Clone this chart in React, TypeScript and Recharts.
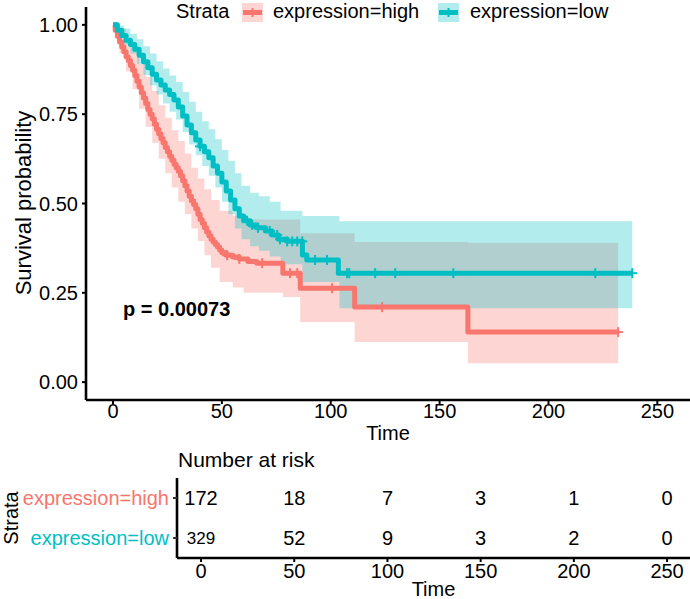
import {
  ComposedChart,
  ScatterChart,
  Line,
  Area,
  Scatter,
  XAxis,
  YAxis,
  Label,
} from "recharts";

const FONT = "'Liberation Sans', Arial, Helvetica, sans-serif";
const RED = "#F8766D";
const TEAL = "#00BFC4";

const strata = ["expression=high", "expression=low"];
const timeTicks = [0, 50, 100, 150, 200, 250];
const survTicks = [0, 0.25, 0.5, 0.75, 1];

// expression=high: Kaplan-Meier steps
const highTime = [
  0, 1, 2, 3, 4, 5, 6, 7, 8, 9, 10, 11, 12, 13, 14, 15, 16, 17, 18, 19, 20, 21,
  22, 23, 24, 25, 26, 27, 28, 29, 30, 31, 32, 33, 34, 35, 36, 37, 38, 39, 40, 41,
  42, 43, 44, 45, 46, 47, 48, 49, 50, 52, 55, 58, 62, 66, 78, 86, 111, 163, 232,
];
const highSurv = [
  1, 0.985, 0.968, 0.952, 0.938, 0.925, 0.911, 0.9, 0.886, 0.873, 0.858, 0.842,
  0.826, 0.81, 0.795, 0.78, 0.763, 0.75, 0.737, 0.722, 0.708, 0.695, 0.682, 0.67,
  0.657, 0.645, 0.632, 0.621, 0.61, 0.6, 0.59, 0.578, 0.564, 0.55, 0.535, 0.52,
  0.508, 0.497, 0.485, 0.47, 0.455, 0.445, 0.432, 0.42, 0.41, 0.4, 0.392, 0.385,
  0.378, 0.37, 0.362, 0.355, 0.35, 0.345, 0.338, 0.333, 0.305, 0.263, 0.21, 0.14,
  0.14,
];
const highCiTime = [
  0, 3, 6, 9, 12, 15, 18, 21, 24, 27, 30, 33, 36, 39, 42, 45, 49, 55, 60, 78, 86,
  111, 163, 232,
];
const highLower = [
  1, 0.92, 0.87, 0.82, 0.765, 0.715, 0.67, 0.625, 0.585, 0.545, 0.505, 0.47,
  0.43, 0.395, 0.355, 0.32, 0.28, 0.265, 0.25, 0.238, 0.168, 0.112, 0.053, 0.053,
];
const highUpper = [
  1, 0.99, 0.96, 0.93, 0.89, 0.855, 0.815, 0.775, 0.74, 0.705, 0.675, 0.64, 0.6,
  0.57, 0.54, 0.51, 0.48, 0.465, 0.455, 0.455, 0.417, 0.392, 0.39, 0.39,
];
const highCensor = [52.4, 58, 68.5, 81.3, 84.6, 100.6, 123.6, 232];

// expression=low: Kaplan-Meier steps
const lowTime = [
  0, 2, 4, 6, 8, 10, 12, 14, 16, 18, 20, 22, 24, 26, 28, 30, 32, 34, 36, 38, 40,
  42, 44, 46, 48, 50, 52, 54, 56, 58, 60, 63, 66, 70, 73, 76, 80, 87, 89, 103.5,
  238.5,
];
const lowSurv = [
  1, 0.985, 0.97, 0.957, 0.945, 0.932, 0.915, 0.897, 0.88, 0.862, 0.846, 0.832,
  0.818, 0.805, 0.79, 0.77, 0.745, 0.72, 0.698, 0.678, 0.66, 0.645, 0.628, 0.605,
  0.585, 0.56, 0.535, 0.51, 0.485, 0.465, 0.452, 0.44, 0.432, 0.423, 0.412, 0.4,
  0.394, 0.356, 0.342, 0.305, 0.305,
];
const lowCiTime = [
  0, 2, 5, 8, 11, 14, 17, 20, 23, 26, 29, 32, 35, 38, 41, 44, 47, 50, 53, 56, 59,
  63, 67, 72, 77, 87, 104, 238.5,
];
const lowLower = [
  1, 0.97, 0.945, 0.92, 0.89, 0.86, 0.83, 0.805, 0.78, 0.757, 0.735, 0.7, 0.665,
  0.635, 0.605, 0.578, 0.545, 0.505, 0.47, 0.43, 0.4, 0.38, 0.368, 0.352, 0.33,
  0.28, 0.207, 0.207,
];
const lowUpper = [
  1, 0.998, 0.99, 0.975, 0.96, 0.94, 0.92, 0.898, 0.878, 0.858, 0.84, 0.812,
  0.785, 0.757, 0.73, 0.708, 0.68, 0.65, 0.62, 0.585, 0.55, 0.53, 0.52, 0.505,
  0.48, 0.465, 0.45, 0.45,
];
const lowCensor = [
  40, 61.6, 63.9, 66.6, 72, 75.4, 76.7, 80, 82.3, 84.6, 86.9, 92.8, 98.3, 107.5,
  108.5, 120.4, 129.6, 156.3, 221.5, 238.5,
];

// number at risk
const riskTimes = [0, 50, 100, 150, 200, 250];
const highRisk = [172, 18, 7, 3, 1, 0];
const lowRisk = [329, 52, 9, 3, 2, 0];

const pValue = "p = 0.00073";

// value of a step curve at time t
const stepValue = (times: number[], vals: number[], t: number) => {
  let v = vals[0];
  for (let i = 0; i < times.length; i++) {
    if (times[i] <= t) v = vals[i];
  }
  return v;
};

const toCurve = (times: number[], surv: number[]) =>
  times.map((t, i) => ({ t, s: surv[i] }));
const toBand = (times: number[], lo: number[], hi: number[]) =>
  times.map((t, i) => ({ t, band: [lo[i], hi[i]] }));
const toMarks = (censor: number[], times: number[], surv: number[]) =>
  censor.map((t) => ({ t, s: stepValue(times, surv, t) }));

const highCurve = toCurve(highTime, highSurv);
const lowCurve = toCurve(lowTime, lowSurv);
const highBand = toBand(highCiTime, highLower, highUpper);
const lowBand = toBand(lowCiTime, lowLower, lowUpper);
const highMarks = toMarks(highCensor, highTime, highSurv);
const lowMarks = toMarks(lowCensor, lowTime, lowSurv);

const riskRows = [
  ...riskTimes.map((t, i) => ({ t, row: 1, n: highRisk[i], first: i === 0 })),
  ...riskTimes.map((t, i) => ({ t, row: 0, n: lowRisk[i], first: i === 0 })),
];

const axisLine = { stroke: "#000", strokeWidth: 2.6 };
const tickStyle = { fill: "#000", fontSize: 20, fontFamily: FONT };

const CensorMark = (props: any) => {
  const { cx, cy, fill } = props;
  return (
    <g stroke={fill} strokeWidth={2}>
      <line x1={cx - 5} y1={cy} x2={cx + 5} y2={cy} />
      <line x1={cx} y1={cy - 5} x2={cx} y2={cy + 5} />
    </g>
  );
};

const RiskCount = (props: any) => {
  const { cx, cy, payload } = props;
  // the first low-group count is set a bit smaller
  const small = payload.row === 0 && payload.first;
  return (
    <text
      x={cx}
      y={cy}
      dy="0.36em"
      textAnchor="middle"
      fontSize={small ? 17 : 20}
      fontFamily={FONT}
      fill="#000"
    >
      {payload.n}
    </text>
  );
};

const StrataTick = (props: any) => {
  const { x, y, payload } = props;
  const label = payload.value === 1 ? strata[0] : strata[1];
  return (
    <text
      x={x}
      y={y}
      dy="0.36em"
      textAnchor="end"
      fontSize={20}
      fontFamily={FONT}
      fill={payload.value === 1 ? RED : TEAL}
    >
      {label}
    </text>
  );
};

const LegendKey = ({ x, color }: { x: number; color: string }) => (
  <g>
    <rect x={x} y={3} width={21} height={19} fill={color} fillOpacity={0.3} />
    <line x1={x + 1} y1={12.5} x2={x + 20} y2={12.5} stroke={color} strokeWidth={5} />
    <line x1={x + 10.5} y1={8} x2={x + 10.5} y2={17} stroke={color} strokeWidth={2} />
  </g>
);

const SurvivalPlot = () => (
  <ComposedChart
    width={690}
    height={445}
    margin={{ top: 7, right: 0, bottom: 0, left: 0 }}
  >
    <XAxis
      type="number"
      dataKey="t"
      domain={[-12.4, 265]}
      ticks={timeTicks}
      allowDataOverflow
      height={45}
      axisLine={axisLine}
      tickLine={{ stroke: "#000", strokeWidth: 2 }}
      tickSize={4}
      tickMargin={0}
      tick={tickStyle}
    >
      <Label
        value="Time"
        position="insideBottom"
        offset={5}
        fill="#000"
        fontSize={20}
        fontFamily={FONT}
      />
    </XAxis>
    <YAxis
      type="number"
      domain={[-0.05, 1.05]}
      ticks={survTicks}
      allowDataOverflow
      width={86}
      tickFormatter={(v: number) => v.toFixed(2)}
      axisLine={axisLine}
      tickLine={{ stroke: "#000", strokeWidth: 2 }}
      tickSize={4}
      tickMargin={4}
      tick={tickStyle}
    >
      <Label
        content={() => (
          <text
            x={23}
            y={203}
            transform="rotate(-90, 23, 203)"
            textAnchor="middle"
            dy="0.36em"
            fontSize={22}
            fontFamily={FONT}
            fill="#000"
          >
            Survival probability
          </text>
        )}
      />
    </YAxis>
    <Area
      data={highBand}
      dataKey="band"
      type="stepAfter"
      stroke="none"
      fill={RED}
      fillOpacity={0.3}
      isAnimationActive={false}
    />
    <Line
      data={highCurve}
      dataKey="s"
      type="stepAfter"
      stroke={RED}
      strokeWidth={5}
      strokeLinejoin="round"
      dot={false}
      activeDot={false}
      isAnimationActive={false}
    />
    <Scatter
      data={highMarks}
      dataKey="s"
      fill={RED}
      shape={<CensorMark />}
      isAnimationActive={false}
    />
    <Area
      data={lowBand}
      dataKey="band"
      type="stepAfter"
      stroke="none"
      fill={TEAL}
      fillOpacity={0.3}
      isAnimationActive={false}
    />
    <Line
      data={lowCurve}
      dataKey="s"
      type="stepAfter"
      stroke={TEAL}
      strokeWidth={5}
      strokeLinejoin="round"
      dot={false}
      activeDot={false}
      isAnimationActive={false}
    />
    <Scatter
      data={lowMarks}
      dataKey="s"
      fill={TEAL}
      shape={<CensorMark />}
      isAnimationActive={false}
    />
  </ComposedChart>
);

const RiskTable = () => (
  <ScatterChart
    width={690}
    height={159}
    margin={{ top: 38, right: 0, bottom: 0, left: 0 }}
  >
    <XAxis
      type="number"
      dataKey="t"
      domain={[-12.9, 262.3]}
      ticks={timeTicks}
      allowDataOverflow
      height={41}
      axisLine={axisLine}
      tickLine={{ stroke: "#000", strokeWidth: 2 }}
      tickSize={4}
      tickMargin={2}
      tick={tickStyle}
    >
      <Label
        value="Time"
        position="insideBottom"
        offset={3}
        fill="#000"
        fontSize={20}
        fontFamily={FONT}
      />
    </XAxis>
    <YAxis
      type="number"
      dataKey="row"
      domain={[-0.5, 1.5]}
      ticks={[0, 1]}
      width={177}
      axisLine={axisLine}
      tickLine={{ stroke: "#333", strokeWidth: 2 }}
      tickSize={4}
      tickMargin={4}
      tick={<StrataTick />}
    >
      <Label
        content={() => (
          <text
            x={11}
            y={78}
            transform="rotate(-90, 11, 78)"
            textAnchor="middle"
            dy="0.36em"
            fontSize={20}
            fontFamily={FONT}
            fill="#000"
          >
            Strata
          </text>
        )}
      />
    </YAxis>
    <Scatter data={riskRows} shape={<RiskCount />} isAnimationActive={false} />
  </ScatterChart>
);

export default function App() {
  return (
    <div
      style={{
        position: "absolute",
        left: 0,
        top: 0,
        width: 690,
        height: 599,
        background: "#fff",
        fontFamily: FONT,
      }}
    >
      <div style={{ position: "absolute", left: 0, top: 0 }}>
        <SurvivalPlot />
      </div>
      <svg
        width={690}
        height={445}
        style={{ position: "absolute", left: 0, top: 0, pointerEvents: "none" }}
      >
        <text x={176} y={18} fontSize={20} fontFamily={FONT} fill="#000">
          Strata
        </text>
        <LegendKey x={242} color={RED} />
        <text x={273} y={18} fontSize={20} fontFamily={FONT} fill="#000">
          {strata[0]}
        </text>
        <LegendKey x={438} color={TEAL} />
        <text x={470} y={18} fontSize={20} fontFamily={FONT} fill="#000">
          {strata[1]}
        </text>
        <text
          x={123}
          y={316}
          fontSize={20}
          fontWeight="bold"
          fontFamily={FONT}
          fill="#000"
        >
          {pValue}
        </text>
      </svg>
      <div style={{ position: "absolute", left: 0, top: 440 }}>
        <RiskTable />
      </div>
      <div
        style={{
          position: "absolute",
          left: 178,
          top: 448,
          fontSize: 21,
          lineHeight: "23px",
          fontFamily: FONT,
          color: "#000",
        }}
      >
        Number at risk
      </div>
    </div>
  );
}
